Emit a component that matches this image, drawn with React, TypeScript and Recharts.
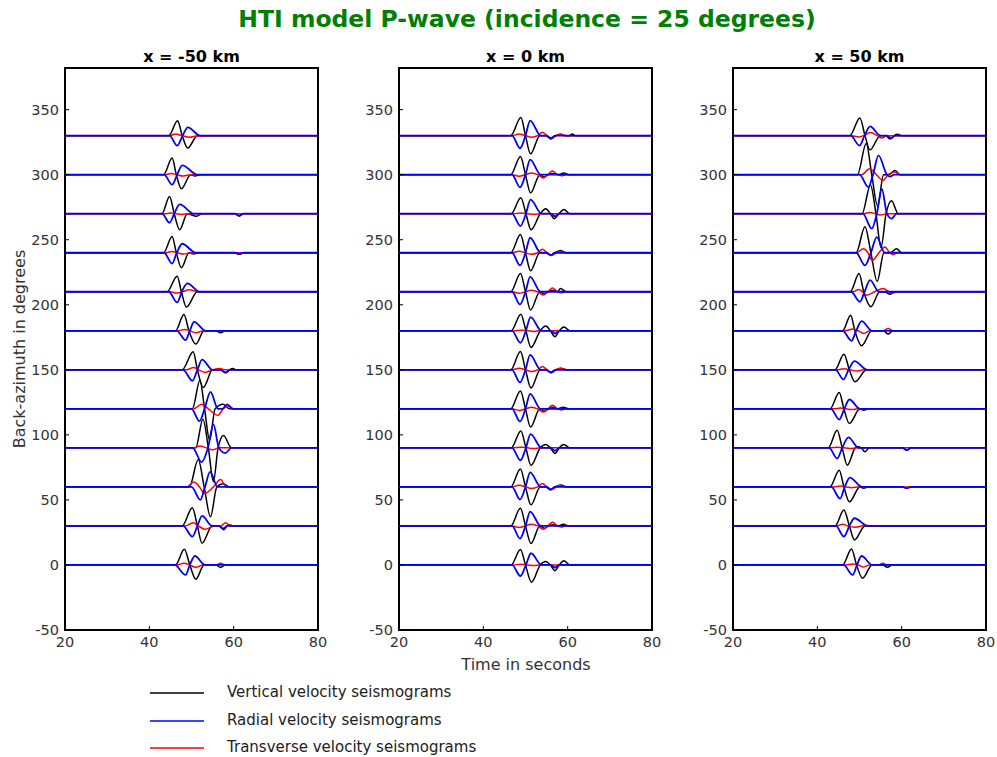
import React from 'react';
import { LineChart, Line, XAxis, YAxis, ReferenceArea } from 'recharts';

type Key = [number, number];

// back-azimuth of each trace (degrees), bottom to top
const BAZ = [0, 30, 60, 90, 120, 150, 180, 210, 240, 270, 300, 330];
const TIME_TICKS = [20, 40, 60, 80];
const BAZ_TICKS = [-50, 0, 50, 100, 150, 200, 250, 300, 350];
const PANEL_TITLES = ['x = -50 km', 'x = 0 km', 'x = 50 km'];
const LEGEND_LABELS = ['Vertical velocity seismograms', 'Radial velocity seismograms', 'Transverse velocity seismograms'];

// wavelet key points: [time s, amplitude], one list per back-azimuth
const westVertical: Key[][] = [
  [[46.2, 0], [48.3, 12], [49.6, 0], [51.0, -11], [53.0, 0], [55.8, 0], [56.9, -2], [58.0, 0]],
  [[47.8, 0], [50.2, 14], [51.4, 0], [52.5, -13.3], [54.9, 0], [56.5, 0], [57.7, -3], [58.4, 0], [58.9, 1], [59.8, 0]],
  [[49.5, 0], [51.6, 21], [53.0, 0], [54.5, -23], [56.0, 0], [57.5, 2.5], [59.0, 0]],
  [[51.0, 0], [52.7, 22], [54.0, 0], [55.2, -26], [56.3, 0], [57.6, 9.5], [59.5, 0]],
  [[50.2, 0], [52.0, 22], [53.1, 0], [54.3, -24], [55.6, 0], [57.5, 3.5], [59.0, 0]],
  [[47.8, 0], [50.4, 13.8], [51.4, 0], [52.8, -13.6], [55.0, 0], [56.8, 0], [58.1, -2.3], [59.0, 0], [59.8, 1], [60.6, 0]],
  [[46.2, 0], [48.2, 12.5], [49.4, 0], [51.0, -10.2], [53.0, 0], [55.8, 0], [56.9, -1.5], [58.0, 0]],
  [[44.2, 0], [46.6, 12], [47.6, 0], [48.8, -11.8], [51.4, 0]],
  [[43.4, 0], [45.4, 12.5], [46.4, 0], [47.6, -11.5], [49.4, 0], [50.5, -1], [51.8, 0], [60.3, 0], [61.3, -1.2], [62.3, 0]],
  [[43.0, 0], [44.8, 13.3], [45.9, 0], [47.2, -12.3], [49.0, 0], [51.2, -2], [52.5, 0], [60.3, 0], [61.3, -1.8], [62.3, 0]],
  [[43.4, 0], [45.4, 12.8], [46.4, 0], [47.6, -10.8], [49.8, 0], [50.8, -1], [52.2, 0]],
  [[44.6, 0], [46.7, 11.5], [47.8, 0], [49.1, -9.5], [51.4, 0]],
];
const westRadial: Key[][] = [
  [[46.0, 0], [48.6, -7.7], [49.6, 0], [50.8, 6.9], [53.2, 0]],
  [[48.0, 0], [50.2, -8.2], [51.4, 0], [52.5, 7.7], [54.9, 0], [56.5, 0], [57.5, -2], [58.5, 0]],
  [[50.0, 0], [52.1, -10], [53.2, 0], [54.4, 11.5], [56.2, 0]],
  [[50.3, 0], [52.4, -11], [53.9, 0], [55.2, 18], [56.5, 0], [58.0, -4], [59.5, 0]],
  [[50.0, 0], [51.9, -9.5], [53.1, 0], [54.5, 13], [56.3, 0], [57.3, 0], [58.5, 3.5], [59.8, 0]],
  [[48.0, 0], [50.2, -8.4], [51.4, 0], [52.5, 7.9], [55.0, 0], [57.0, 0], [58.1, -2], [59.2, 0]],
  [[46.5, 0], [48.6, -7.2], [49.6, 0], [50.6, 6.9], [53.4, 0]],
  [[44.6, 0], [46.6, -8.2], [47.7, 0], [49.0, 6.4], [52.0, 0]],
  [[43.5, 0], [45.4, -8.4], [46.5, 0], [47.8, 6.9], [51.0, 0], [60.3, 0], [61.3, -1], [62.3, 0]],
  [[43.0, 0], [44.8, -6.9], [45.9, 0], [47.2, 7.2], [50.6, 0], [60.3, 0], [61.3, -1.5], [62.3, 0]],
  [[43.5, 0], [45.4, -7.7], [46.6, 0], [47.8, 7.2], [51.4, 0]],
  [[44.8, 0], [46.6, -7.7], [47.9, 0], [49.1, 6.4], [52.1, 0]],
];
const westTransverse: Key[][] = [
  [[46.5, 0], [48.2, 1.3], [49.6, 0], [51.0, -1.8], [52.8, 0], [55.8, 0], [56.9, 1.3], [58.0, 0]],
  [[48.5, 0], [50.4, 2.5], [51.6, 0], [53.2, -2.5], [55.5, 0], [57.0, 0], [58.1, 2.5], [59.2, 0]],
  [[48.8, 0], [50.6, 3.8], [51.9, 0], [53.1, -5], [55.2, 0], [56.9, 5.6], [58.2, 0]],
  [[50.5, 0], [52.0, 1.5], [53.5, 0], [55.0, -1.5], [56.5, 0]],
  [[50.5, 0], [52.4, 3.6], [54.0, 0], [56.3, -5], [57.5, 0], [58.8, 2], [60.0, 0]],
  [[48.8, 0], [50.5, 1.8], [51.6, 0], [53.2, -2], [55.0, 0], [56.7, 1], [58.0, 0]],
  [[46.8, 0], [48.4, 1], [49.6, 0], [51.0, -1.5], [53.0, 0]],
  [[45.0, 0], [46.6, -1], [47.8, 0], [49.5, 1.5], [51.5, 0]],
  [[44.0, 0], [45.4, 1], [46.6, 0], [48.0, -1], [50.0, 0]],
  [[44.0, 0], [45.2, 0.6], [46.4, 0], [47.6, -0.6], [49.0, 0]],
  [[43.8, 0], [45.2, 1], [46.5, 0], [48.0, -1], [50.0, 0]],
  [[44.8, 0], [46.3, 1.3], [47.8, 0], [49.5, -1.3], [51.5, 0]],
];

const midVertical: Key[][] = [
  [[46.6, 0], [48.8, 11.8], [50.0, 0], [51.4, -13.3], [53.5, 0], [54.8, 2.6], [55.9, 0], [57.0, -4.4], [58.0, 0], [59.1, 3.3], [60.5, 0]],
  [[46.5, 0], [48.8, 13.5], [50.0, 0], [51.3, -13.5], [53.4, 0], [54.5, -1.8], [55.5, 0], [56.5, 1.0], [57.6, 0], [59.0, 1.3], [60.2, 0]],
  [[46.5, 0], [48.8, 13.8], [50.0, 0], [51.3, -13.8], [53.5, 0], [54.8, 0], [55.9, -2.3], [57.0, 0], [58.4, 1.5], [59.8, 0]],
  [[46.6, 0], [48.9, 13], [50.1, 0], [51.3, -13.5], [53.5, 0], [54.8, 2.6], [55.9, 0], [57.0, -4.4], [58.0, 0], [59.1, 2.6], [60.5, 0]],
  [[46.5, 0], [48.8, 13.8], [50.0, 0], [51.2, -14], [53.4, 0], [54.5, -1.8], [55.5, 0], [56.6, 1.2], [57.6, 0], [59.0, 1.3], [60.2, 0]],
  [[46.5, 0], [48.8, 14], [50.0, 0], [51.3, -14], [53.5, 0], [54.8, 0], [56.0, -2.3], [57.1, 0], [58.4, 1.2], [59.8, 0]],
  [[46.6, 0], [48.9, 12.8], [50.1, 0], [51.3, -12.8], [53.5, 0], [54.8, 3.6], [55.9, 0], [57.0, -4.6], [58.0, 0], [59.1, 3.0], [60.5, 0]],
  [[46.5, 0], [48.8, 14], [50.0, 0], [51.2, -14], [53.4, 0], [54.4, -1.8], [55.4, 0], [56.6, 1.0], [57.6, 0], [58.3, 2.5], [59.6, 0]],
  [[46.5, 0], [48.8, 14], [50.0, 0], [51.2, -13.8], [53.4, 0], [54.8, 0], [55.9, -2], [57.0, 0], [58.3, 1.8], [59.6, 0]],
  [[46.6, 0], [48.9, 12.3], [50.1, 0], [51.3, -12.3], [53.5, 0], [54.8, 3.8], [55.9, 0], [56.8, -3.8], [57.9, 0], [59.1, 3.3], [60.5, 0]],
  [[46.5, 0], [48.8, 14], [50.0, 0], [51.2, -14], [53.4, 0], [54.4, -1.8], [55.4, 0], [56.6, 1.0], [57.8, 0], [59.1, 1.3], [60.3, 0]],
  [[46.5, 0], [48.9, 14], [50.0, 0], [51.2, -14], [53.4, 0], [54.8, 0], [56.0, -2.5], [57.2, 0], [58.5, 0.8], [59.6, 0], [60.4, 0], [61.1, 1.3], [61.8, 0]],
];
const midRadial: Key[][] = [
  [[46.8, 0], [48.8, -8.5], [50.1, 0], [51.3, 9], [53.8, 0], [56.0, 0], [57.0, -2], [58.0, 0]],
  [[46.8, 0], [48.7, -9.7], [50.0, 0], [51.1, 11], [53.6, 0]],
  [[46.8, 0], [48.7, -9.7], [50.0, 0], [51.1, 11.2], [53.6, 0], [55.0, 0], [56.0, -1.8], [57.0, 0]],
  [[46.8, 0], [48.8, -9.5], [50.1, 0], [51.2, 10.5], [53.8, 0], [56.0, 0], [57.0, -2.2], [58.0, 0]],
  [[46.8, 0], [48.7, -9.7], [50.0, 0], [51.1, 11.5], [53.6, 0]],
  [[46.8, 0], [48.7, -9.7], [50.0, 0], [51.1, 11.5], [53.6, 0], [55.0, 0], [56.0, -2], [57.0, 0]],
  [[46.8, 0], [48.8, -9.2], [50.1, 0], [51.2, 10.5], [53.8, 0], [56.0, 0], [57.0, -2.2], [58.0, 0]],
  [[46.8, 0], [48.7, -9.7], [50.0, 0], [51.1, 11.5], [53.6, 0]],
  [[46.8, 0], [48.7, -9.7], [50.0, 0], [51.1, 11.5], [53.6, 0], [55.0, 0], [56.0, -1.8], [57.0, 0]],
  [[46.8, 0], [48.8, -9.5], [50.1, 0], [51.2, 10.8], [53.8, 0], [56.0, 0], [57.0, -2], [58.0, 0]],
  [[46.8, 0], [48.7, -9.7], [50.0, 0], [51.1, 11.5], [53.6, 0]],
  [[46.8, 0], [48.7, -9.7], [50.0, 0], [51.1, 11.5], [53.6, 0], [55.0, 0], [56.0, -2], [57.0, 0]],
];
const midTransverse: Key[][] = [
  [[47.0, 0], [49.0, 0.5], [50.5, 0], [52.0, -0.5], [53.5, 0]],
  [[46.8, 0], [48.5, -1.2], [50.0, 0], [51.4, 1.2], [52.9, 0], [54.2, -2.5], [55.3, 0], [56.4, 2.8], [57.6, 0], [58.5, -0.8], [59.5, 0]],
  [[46.8, 0], [48.5, 1.2], [50.0, 0], [51.4, -1.2], [52.9, 0], [54.0, 2.6], [55.1, 0], [56.2, -2.2], [57.3, 0], [58.3, 1.2], [59.4, 0]],
  [[47.0, 0], [49.0, 0.5], [50.5, 0], [52.0, -0.5], [53.5, 0]],
  [[46.8, 0], [48.5, -1.2], [50.0, 0], [51.4, 1.2], [52.9, 0], [54.2, -2.5], [55.3, 0], [56.4, 2.8], [57.6, 0], [58.5, -0.8], [59.5, 0]],
  [[46.8, 0], [48.5, 1.2], [50.0, 0], [51.4, -1.2], [52.9, 0], [54.0, 2.6], [55.1, 0], [56.2, -2.2], [57.3, 0], [58.3, 1.2], [59.4, 0]],
  [[47.0, 0], [49.0, 0.5], [50.5, 0], [52.0, -0.5], [53.5, 0]],
  [[46.8, 0], [48.5, -1.2], [50.0, 0], [51.4, 1.2], [52.9, 0], [54.2, -2.5], [55.3, 0], [56.4, 2.8], [57.6, 0], [58.5, -0.8], [59.5, 0]],
  [[46.8, 0], [48.5, 1.2], [50.0, 0], [51.4, -1.2], [52.9, 0], [54.0, 2.6], [55.1, 0], [56.2, -2.2], [57.3, 0], [58.3, 1.2], [59.4, 0]],
  [[47.0, 0], [49.0, 0.5], [50.5, 0], [52.0, -0.5], [53.5, 0]],
  [[46.8, 0], [48.5, -1.2], [50.0, 0], [51.4, 1.2], [52.9, 0], [54.2, -2.5], [55.3, 0], [56.4, 2.8], [57.6, 0], [58.5, -0.8], [59.5, 0]],
  [[46.8, 0], [48.5, 1.2], [50.0, 0], [51.4, -1.2], [52.9, 0], [54.0, 2.6], [55.1, 0], [56.2, -2.2], [57.3, 0], [58.3, 1.2], [59.4, 0]],
];

const eastVertical: Key[][] = [
  [[46.0, 0], [48.1, 12.3], [49.3, 0], [50.7, -10.2], [53.0, 0], [55.5, 0], [56.6, -1.8], [57.8, 0]],
  [[44.2, 0], [46.3, 12.3], [47.6, 0], [48.8, -10.8], [51.3, 0]],
  [[43.0, 0], [45.2, 12.8], [46.3, 0], [47.6, -11.5], [50.1, 0], [51.0, -1], [52.0, 0], [60.2, 0], [61.2, -1], [62.2, 0]],
  [[42.6, 0], [44.7, 13.6], [45.9, 0], [47.1, -13.3], [49.0, 0], [49.7, 0.8], [50.4, 0], [51.3, -3], [52.3, 0], [60.2, 0], [61.2, -1.8], [62.2, 0]],
  [[43.0, 0], [45.2, 12.5], [46.3, 0], [47.6, -11.3], [50.1, 0], [51.0, -1], [52.2, 0]],
  [[44.2, 0], [46.3, 12], [47.6, 0], [48.9, -9.2], [51.7, 0]],
  [[46.0, 0], [47.9, 12], [48.9, 0], [50.5, -11.5], [52.9, 0], [55.7, 0], [56.8, -2.5], [57.9, 0]],
  [[47.8, 0], [49.9, 14], [51.0, 0], [52.7, -11.5], [54.8, 0], [56.0, 0], [57.2, -2], [58.4, 0]],
  [[49.2, 0], [51.3, 20], [52.7, 0], [54.2, -22], [55.8, 0], [57.3, 0], [58.8, 3], [60.0, 0]],
  [[50.6, 0], [52.6, 22], [53.9, 0], [55.1, -26], [56.3, 0], [57.6, 10], [59.2, 0]],
  [[49.5, 0], [51.6, 24], [52.9, 0], [54.3, -24], [55.7, 0], [57.0, 0], [58.4, 3.3], [59.6, 0]],
  [[47.7, 0], [50.1, 13.6], [51.3, 0], [52.5, -11], [54.9, 0], [56.2, 0], [57.2, -2.5], [58.2, 0], [59.0, 1], [60.0, 0]],
];
const eastRadial: Key[][] = [
  [[46.2, 0], [48.4, -7.7], [49.4, 0], [50.5, 6.9], [53.0, 0]],
  [[44.4, 0], [46.3, -8.2], [47.6, 0], [48.8, 5.9], [52.0, 0]],
  [[43.3, 0], [45.4, -9], [46.5, 0], [47.7, 7.2], [50.6, 0], [60.2, 0], [61.2, -1], [62.2, 0]],
  [[42.8, 0], [44.7, -8.2], [45.9, 0], [47.4, 8], [49.8, 0], [60.2, 0], [61.2, -1.8], [62.2, 0]],
  [[43.2, 0], [45.2, -8.2], [46.4, 0], [47.6, 7.2], [50.1, 0]],
  [[44.3, 0], [46.2, -7.4], [47.4, 0], [48.8, 6.7], [51.8, 0]],
  [[46.0, 0], [48.1, -7.7], [49.2, 0], [50.5, 7.4], [53.0, 0]],
  [[48.0, 0], [50.1, -7.7], [51.2, 0], [52.5, 9], [54.6, 0]],
  [[49.2, 0], [51.3, -9.7], [52.7, 0], [54.1, 12], [56.0, 0]],
  [[50.8, 0], [52.9, -11.5], [54.1, 0], [55.3, 19], [56.5, 0], [57.6, -3.8], [58.8, 0]],
  [[50.0, 0], [52.1, -9.5], [53.2, 0], [54.5, 14.8], [56.5, 0], [57.2, -1.5], [58.2, 0]],
  [[47.9, 0], [50.0, -7.7], [51.2, 0], [52.5, 7.2], [55.0, 0], [56.5, 0], [57.5, -2], [58.5, 0]],
];
const eastTransverse: Key[][] = [
  [[46.5, 0], [48.5, 0.8], [49.7, 0], [50.9, -1.5], [52.5, 0], [54.5, 0], [55.5, 1.3], [56.5, 0]],
  [[44.5, 0], [46.0, 1.3], [47.2, 0], [48.8, -1], [50.5, 0], [51.2, 0.8], [52.5, 0]],
  [[44.0, 0], [45.5, 0.6], [46.8, 0], [48.2, -0.6], [49.6, 0]],
  [[43.0, 0], [44.8, 0.4], [46.2, 0], [47.8, -0.4], [49.5, 0]],
  [[44.0, 0], [45.5, 0.6], [46.8, 0], [48.2, -0.6], [49.6, 0]],
  [[44.8, 0], [46.3, 0.8], [47.8, 0], [49.3, -1], [51.0, 0]],
  [[46.4, 0], [48.5, 1.3], [49.7, 0], [51.0, -2], [52.5, 0], [55.6, 0], [56.8, 1.8], [58.0, 0]],
  [[48.4, 0], [49.8, 1.8], [50.7, 0], [51.7, -2.6], [53.6, 0], [55.6, 2.6], [57.0, 0], [58.0, -1], [59.0, 0]],
  [[49.3, 0], [50.9, 3], [52.0, 0], [53.0, -6], [54.6, 0], [56.0, 4.4], [57.2, 0], [58.0, -1.5], [59.0, 0]],
  [[51.0, 0], [52.5, 1], [53.7, 0], [55.0, -1], [56.5, 0]],
  [[50.5, 0], [52.4, 4.6], [54.0, 0], [55.6, -4.4], [56.8, 0], [58.4, 2], [59.6, 0]],
  [[48.0, 0], [49.8, -1], [51.0, 0], [52.6, 2.5], [54.2, 0], [55.3, -1.8], [56.6, 0]],
];

const PLOT_TOP = 68;
const PLOT_W = 253;
const PLOT_H = 562;
const Y_AXIS_W = 50;
const RIGHT_PAD = 14;
const PANEL_LEFTS = [65, 399, 733];

const tickStyle = { fill: '#333', fontSize: 14.5 };

// a trace = flat baseline at its back-azimuth with the wavelet added on top
const toSeries = (baz: number, keys: Key[]) => [
  { t: 20, v: baz },
  ...keys.map(([t, a]) => ({ t, v: baz + a })),
  { t: 80, v: baz },
];

interface PanelProps {
  left: number;
  vertical: Key[][];
  radial: Key[][];
  transverse: Key[][];
}

const Panel: React.FC<PanelProps> = ({ left, vertical, radial, transverse }) => {
  // drawing order: vertical, transverse, then radial on top
  const groups: [Key[][], string, number][] = [
    [vertical, '#000000', 1.5],
    [transverse, '#ff0000', 1.5],
    [radial, '#0000ff', 1.8],
  ];
  return (
    <div style={{ position: 'absolute', left: left - Y_AXIS_W, top: PLOT_TOP - 2 }}>
      <LineChart
        width={Y_AXIS_W + PLOT_W + RIGHT_PAD}
        height={2 + PLOT_H + 30}
        margin={{ top: 2, right: RIGHT_PAD, bottom: 0, left: 0 }}
      >
        <XAxis
          type="number"
          dataKey="t"
          domain={[20, 80]}
          ticks={TIME_TICKS}
          allowDataOverflow
          height={30}
          axisLine={false}
          tickSize={-4}
          tickMargin={11}
          tickLine={{ stroke: '#000' }}
          tick={tickStyle}
          interval={0}
        />
        <YAxis
          type="number"
          domain={[-50, 382]}
          ticks={BAZ_TICKS}
          allowDataOverflow
          width={Y_AXIS_W}
          axisLine={false}
          tickSize={-4}
          tickMargin={10}
          tickLine={{ stroke: '#000' }}
          tick={tickStyle}
          interval={0}
        />
        {groups.map(([traces, color, width]) =>
          traces.map((keys, i) => (
            <Line
              key={color + BAZ[i]}
              data={toSeries(BAZ[i], keys)}
              dataKey="v"
              type="monotone"
              stroke={color}
              strokeWidth={width}
              dot={false}
              activeDot={false}
              isAnimationActive={false}
            />
          ))
        )}
        <ReferenceArea x1={20} x2={80} y1={-50} y2={382} fill="none" stroke="#000" strokeWidth={2} ifOverflow="visible" />
      </LineChart>
    </div>
  );
};

const LEGEND_COLORS = ['#000000', '#0000ff', '#ff0000'];
const LEGEND_Y = [693, 721, 748];

const App: React.FC = () => {
  const panels = [
    { vertical: westVertical, radial: westRadial, transverse: westTransverse },
    { vertical: midVertical, radial: midRadial, transverse: midTransverse },
    { vertical: eastVertical, radial: eastRadial, transverse: eastTransverse },
  ];
  return (
    <div style={{ position: 'absolute', left: 0, top: 0, width: 997, height: 757, background: '#fff', fontFamily: '"DejaVu Sans", sans-serif', overflow: 'hidden' }}>
      <div style={{ position: 'absolute', left: 527, top: 5, transform: 'translateX(-50%)', whiteSpace: 'nowrap', color: '#008000', fontWeight: 'bold', fontSize: 23.5 }}>
        HTI model P-wave (incidence = 25 degrees)
      </div>

      {panels.map((p, i) => (
        <React.Fragment key={i}>
          <div style={{ position: 'absolute', left: PANEL_LEFTS[i] + PLOT_W / 2, top: 47, transform: 'translateX(-50%)', whiteSpace: 'nowrap', fontWeight: 'bold', fontSize: 16, color: '#000' }}>
            {PANEL_TITLES[i]}
          </div>
          <Panel left={PANEL_LEFTS[i]} {...p} />
        </React.Fragment>
      ))}

      <div style={{ position: 'absolute', left: 19, top: 349, transform: 'translate(-50%, -50%) rotate(-90deg)', whiteSpace: 'nowrap', fontSize: 16, color: '#333' }}>
        Back-azimuth in degrees
      </div>
      <div style={{ position: 'absolute', left: 526, top: 664, transform: 'translate(-50%, -50%)', whiteSpace: 'nowrap', fontSize: 16, color: '#333' }}>
        Time in seconds
      </div>

      <svg style={{ position: 'absolute', left: 0, top: 0 }} width={997} height={757} pointerEvents="none">
        {LEGEND_LABELS.map((label, i) => (
          <g key={label}>
            <line x1={150} x2={204} y1={LEGEND_Y[i]} y2={LEGEND_Y[i]} stroke={LEGEND_COLORS[i]} strokeWidth={1.5} />
            <text x={227} y={LEGEND_Y[i] - 1} dominantBaseline="central" fontSize={15} fill="#222">
              {label}
            </text>
          </g>
        ))}
      </svg>
    </div>
  );
};

export default App;
